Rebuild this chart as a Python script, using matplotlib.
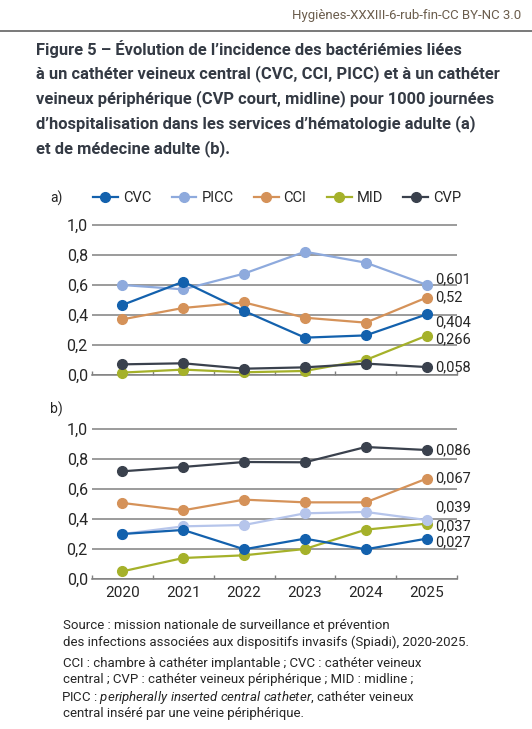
import matplotlib
matplotlib.use('Agg')
import matplotlib.pyplot as plt
from matplotlib.lines import Line2D

plt.rcParams['font.family'] = ['Roboto', 'DejaVu Sans']
plt.rcParams['mathtext.fontset'] = 'custom'
plt.rcParams['mathtext.rm'] = 'Roboto'
plt.rcParams['mathtext.it'] = 'Roboto:italic'

# données
years = ['2020', '2021', '2022', '2023', '2024', '2025']
yticks = [0.0, 0.2, 0.4, 0.6, 0.8, 1.0]
ytick_labels = ['0,0', '0,2', '0,4', '0,6', '0,8', '1,0']

# a) hématologie adulte
a_cvc = [0.467, 0.622, 0.427, 0.249, 0.264, 0.404]
a_picc = [0.600, 0.571, 0.676, 0.822, 0.749, 0.601]
a_cci = [0.371, 0.447, 0.484, 0.382, 0.349, 0.516]
a_mid = [0.016, 0.036, 0.018, 0.027, 0.100, 0.262]
a_cvp = [0.071, 0.078, 0.042, 0.051, 0.076, 0.053]
a_end_labels = ['0,404', '0,601', '0,52', '0,266', '0,058']

# b) médecine adulte
b_cvc = [0.300, 0.327, 0.198, 0.269, 0.198, 0.269]
b_picc = [0.300, 0.351, 0.360, 0.438, 0.447, 0.393]
b_cci = [0.507, 0.458, 0.529, 0.511, 0.511, 0.669]
b_mid = [0.051, 0.140, 0.158, 0.200, 0.329, 0.369]
b_cvp = [0.718, 0.747, 0.780, 0.778, 0.880, 0.860]
b_end_labels = ['0,027', '0,039', '0,067', '0,037', '0,086']

names = ['CVC', 'PICC', 'CCI', 'MID', 'CVP']
colors = {'CVC': '#1361ad', 'CCI': '#d59259', 'MID': '#a5b12a', 'CVP': '#3a414d'}
picc_a_color = '#8eaadd'
picc_b_color = '#b6c5eb'

# décalage vertical des étiquettes de fin (points)
a_label_dy = [-6, 4, 0, -2.5, 0]
b_label_dy = [-2.5, 9, 0, -2, 0]

W, H = 532, 729
fig = plt.figure(figsize=(W / 100, H / 100), dpi=100)
grid_col = '#808080'
txt_col = '#262626'


def draw_panel(ax, vals, picc_col, end_labels, dys):
    x = list(range(len(years)))
    cols = dict(colors)
    cols['PICC'] = picc_col
    handles = {}
    for z, name in enumerate(['MID', 'CVP', 'CCI', 'PICC', 'CVC']):
        ln, = ax.plot(x, vals[name], color=cols[name], lw=1.6, marker='o', ms=7,
                      clip_on=False, zorder=3 + z)
        handles[name] = ln
    for name, lab, dy in zip(names, end_labels, dys):
        ax.annotate(lab, xy=(5, vals[name][5]), xytext=(6, dy), textcoords='offset points',
                    va='center', ha='left', fontsize=10.5, color=txt_col,
                    annotation_clip=False)
    ax.set_xlim(-0.5, 5.5)
    ax.set_ylim(0, 1.01)
    ax.set_yticks(yticks)
    ax.set_yticklabels(ytick_labels, fontsize=11.5, color=txt_col)
    ax.set_xticks(x)
    ax.set_xticks([i - 0.5 for i in range(len(years) + 1)], minor=True)
    ax.tick_params(axis='y', length=0, pad=3)
    ax.tick_params(axis='x', which='major', length=0, pad=5)
    ax.tick_params(axis='x', which='minor', direction='in', length=3, color=grid_col, width=1)
    ax.yaxis.grid(True, color=grid_col, lw=1.1)
    ax.set_axisbelow(True)
    for s in ['left', 'right', 'top']:
        ax.spines[s].set_visible(False)
    ax.spines['bottom'].set_color(grid_col)
    ax.spines['bottom'].set_linewidth(1.1)
    return handles


def fit_width(texts, ref, target_px):
    # ajuste la taille de police pour que `ref` ait la largeur voulue
    r = fig.canvas.get_renderer()
    k = target_px / ref.get_window_extent(renderer=r).width
    for t in texts:
        t.set_fontsize(t.get_fontsize() * k)


ax_a = fig.add_axes([92 / W, 1 - 375 / H, 365 / W, 1.01 * 150 / H])
ax_b = fig.add_axes([92 / W, 1 - 579 / H, 365 / W, 1.01 * 150 / H])

vals_a = {'CVC': a_cvc, 'PICC': a_picc, 'CCI': a_cci, 'MID': a_mid, 'CVP': a_cvp}
vals_b = {'CVC': b_cvc, 'PICC': b_picc, 'CCI': b_cci, 'MID': b_mid, 'CVP': b_cvp}
h_a = draw_panel(ax_a, vals_a, picc_a_color, a_end_labels, a_label_dy)
draw_panel(ax_b, vals_b, picc_b_color, b_end_labels, b_label_dy)
ax_a.set_xticklabels([])
ax_b.set_xticklabels(years, fontsize=11, color=txt_col)

ax_a.legend([h_a[n] for n in names], names, ncol=5, loc='center left',
            bbox_to_anchor=(93 / W, 1 - 198 / H), bbox_transform=fig.transFigure,
            frameon=False, fontsize=10.5, handlelength=1.7, handletextpad=0.34,
            columnspacing=1.4, borderpad=0, borderaxespad=0, labelcolor=txt_col)

fig.text(50 / W, 1 - 198 / H, 'a)', fontsize=10, va='center', color=txt_col)
fig.text(50 / W, 1 - 409 / H, 'b)', fontsize=10, va='center', color=txt_col)

# en-tête
fig.text(521 / W, 1 - 15 / H, 'Hygiènes-XXXIII-6-rub-fin-CC BY-NC 3.0', ha='right',
         va='center', fontsize=9.5, color='#6b5d4d')
fig.add_artist(Line2D([0, 1], [1 - 30.5 / H] * 2, color='#555555', lw=1.1))

title = ['Figure 5 – Évolution de l’incidence des bactériémies liées',
         'à un cathéter veineux central (CVC, CCI, PICC) et à un cathéter',
         'veineux périphérique (CVP court, midline) pour 1000 journées',
         'd’hospitalisation dans les services d’hématologie adulte (a)',
         'et de médecine adulte (b).']
title_txt = []
for i, line in enumerate(title):
    title_txt.append(fig.text(36 / W, 1 - (49 + 24.9 * i) / H, line, fontsize=11,
                              fontweight='bold', va='center', color='#343a44'))
fit_width(title_txt, title_txt[2], 494 - 36)

foot = ['Source : mission nationale de surveillance et prévention',
        'des infections associées aux dispositifs invasifs (Spiadi), 2020-2025.',
        'CCI : chambre à cathéter implantable ; CVC : cathéter veineux',
        'central ; CVP : cathéter veineux périphérique ; MID : midline ;',
        r'PICC : $\it{peripherally\ inserted\ central\ catheter}$, cathéter veineux',
        'central inséré par une veine périphérique.']
foot_y = [625, 642, 663, 680, 697, 713]
foot_x = [63, 63, 63, 63, 61, 63]
foot_txt = [fig.text(x / W, 1 - y / H, line, fontsize=9, va='center', color=txt_col)
            for line, x, y in zip(foot, foot_x, foot_y)]
fit_width(foot_txt, foot_txt[1], 470 - 63)

fig.savefig('out.png', dpi=100)
